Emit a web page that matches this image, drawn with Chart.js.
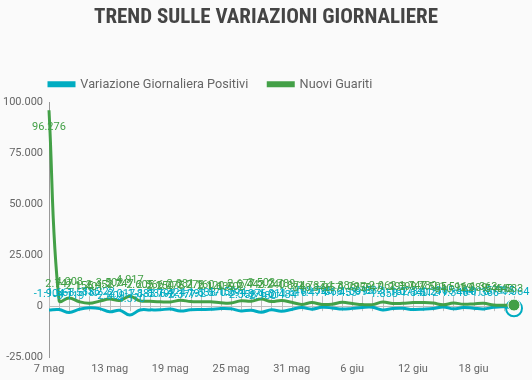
<!DOCTYPE html>
<html>
<head>
<meta charset="utf-8">
<script src="https://cdn.jsdelivr.net/npm/chart.js@4"></script>
<style>
html,body{margin:0;padding:0;background:#fafafa;}
#wrap{width:532px;height:380px;position:relative;}
</style>
</head>
<body>
<div id="wrap"><canvas id="c" width="532" height="380"></canvas></div>
<script>
const categories = ["7 mag","8 mag","9 mag","10 mag","11 mag","12 mag","13 mag","14 mag","15 mag","16 mag","17 mag","18 mag","19 mag","20 mag","21 mag","22 mag","23 mag","24 mag","25 mag","26 mag","27 mag","28 mag","29 mag","30 mag","31 mag","1 giu","2 giu","3 giu","4 giu","5 giu","6 giu","7 giu","8 giu","9 giu","10 giu","11 giu","12 giu","13 giu","14 giu","15 giu","16 giu","17 giu","18 giu","19 giu","20 giu","21 giu","22 giu"];
const variazionePositivi = [-1904,-1663,-3119,-1518,-836,-1222,-2809,-2017,-4370,-1883,-1836,-1798,-1424,-2377,-1792,-1638,-1570,-1158,-1294,-2358,-1976,-2980,-1811,-2484,-1616,-708,-1474,-596,-868,-1453,-1099,-615,-532,-1858,-1162,-1073,-1640,-1512,-1211,-365,-1340,-644,-1016,-1366,-571,-335,-1064];
const nuoviGuariti = [96276,2747,4008,2155,1401,2452,3502,2747,4917,2605,2366,2150,2075,2881,2278,2160,2120,1639,1502,2677,2443,3503,2240,2789,1874,848,1737,846,957,1886,1297,759,747,2062,1293,1399,1747,1780,1505,640,1516,929,1089,1363,546,440,533];
const yTicks = [-25000,0,25000,50000,75000,100000];
const seriesNames = ["Variazione Giornaliera Positivi","Nuovi Guariti"];
const titleText = "TREND SULLE VARIAZIONI GIORNALIERE";

const CYAN = '#00ACC1', GREEN = '#43A047';
function fmt(v){
  const s = Math.abs(Math.round(v)).toString().replace(/\B(?=(\d{3})+(?!\d))/g,'.');
  return (v<0?'-':'')+s;
}
const lastIdx = categories.length-1;
function radii(r){ return categories.map((_,i)=> i===lastIdx ? r : 0); }

const zeroGuide = {
  id:'zeroGuide',
  beforeDatasetsDraw(chart){
    const {ctx, chartArea:a, scales:{x,y}} = chart;
    const y0 = y.getPixelForValue(0);
    ctx.save();
    ctx.strokeStyle = '#bdbdbd'; ctx.lineWidth = 1;
    ctx.beginPath();
    ctx.moveTo(a.left, Math.round(y0)+0.5); ctx.lineTo(a.right, Math.round(y0)+0.5);
    categories.forEach((_,i)=>{
      const px = Math.round(x.getPixelForValue(i))+0.5;
      ctx.moveTo(px, y0-10); ctx.lineTo(px, y0+5);
    });
    ctx.stroke();
    ctx.restore();
  }
};
const pointLabels = {
  id:'pointLabels',
  afterDatasetsDraw(chart){
    const {ctx, chartArea:a} = chart;
    ctx.save();
    ctx.font = '11px Roboto';
    ctx.textAlign = 'center'; ctx.textBaseline = 'middle';
    chart.data.datasets.forEach((ds,di)=>{
      const meta = chart.getDatasetMeta(di);
      meta.data.forEach((pt,i)=>{
        let ty = pt.y - 16;
        if (ty < a.top + 4) ty = pt.y + 17;
        ctx.fillStyle = ds.borderColor;
        ctx.fillText(fmt(ds.data[i]), pt.x, ty);
      });
    });
    ctx.restore();
  }
};
const boxShift = {
  id:'boxShift',
  afterLayout(chart){
    if (chart.legend){ chart.legend.left = 29; chart.legend.top -= 2; chart.legend.bottom -= 2; }
    if (chart.titleBlock){ chart.titleBlock.left = 0; chart.titleBlock.right = 532; }
  }
};

new Chart(document.getElementById('c'), {
  type:'line',
  data:{
    labels: categories,
    datasets:[
      {label:seriesNames[0], data:variazionePositivi, borderColor:CYAN, backgroundColor:CYAN,
       borderWidth:3, tension:0.4, fill:false, order:2,
       pointRadius:radii(8), pointBackgroundColor:'rgba(0,0,0,0)', pointBorderColor:CYAN, pointBorderWidth:2},
      {label:seriesNames[1], data:nuoviGuariti, borderColor:GREEN, backgroundColor:GREEN,
       borderWidth:3, tension:0.4, fill:false, order:1,
       pointRadius:radii(6), pointBackgroundColor:GREEN, pointBorderColor:'#ffffff', pointBorderWidth:1}
    ]
  },
  options:{
    responsive:false, animation:false, devicePixelRatio:1,
    layout:{padding:{left:0,right:18,top:0,bottom:0}},
    plugins:{
      title:{display:true, text:titleText, color:'#444',
        font:{family:"'Roboto Condensed','Liberation Sans Narrow','DejaVu Sans Condensed',Roboto", size:21, weight:'bold'},
        padding:{top:5,bottom:29.8}},
      legend:{display:true, position:'top', align:'start',
        labels:{boxWidth:25, boxHeight:3, padding:20, color:'#666', font:{family:'Roboto', size:12.7},
          sort:(a,b)=>a.datasetIndex-b.datasetIndex}},
      tooltip:{enabled:false}
    },
    scales:{
      x:{
        grid:{display:false, drawTicks:false}, border:{display:false},
        ticks:{autoSkip:false, maxRotation:0, padding:6, color:'#666', font:{family:'Roboto', size:11},
          callback:function(v,i){ return i%6===0 ? categories[i] : null; }},
        afterFit(s){ s.height = 23; }
      },
      y:{
        min:-25000, max:100000,
        afterBuildTicks(s){ s.ticks = yTicks.map(v=>({value:v})); },
        grid:{display:false, drawTicks:false}, border:{display:true, color:'#999', width:1},
        ticks:{padding:6, color:'#666', font:{family:'Roboto', size:11}, callback:(v)=>fmt(v)},
        afterFit(s){ s.width = 49; }
      }
    }
  },
  plugins:[zeroGuide, pointLabels, boxShift]
});
</script>
</body>
</html>
